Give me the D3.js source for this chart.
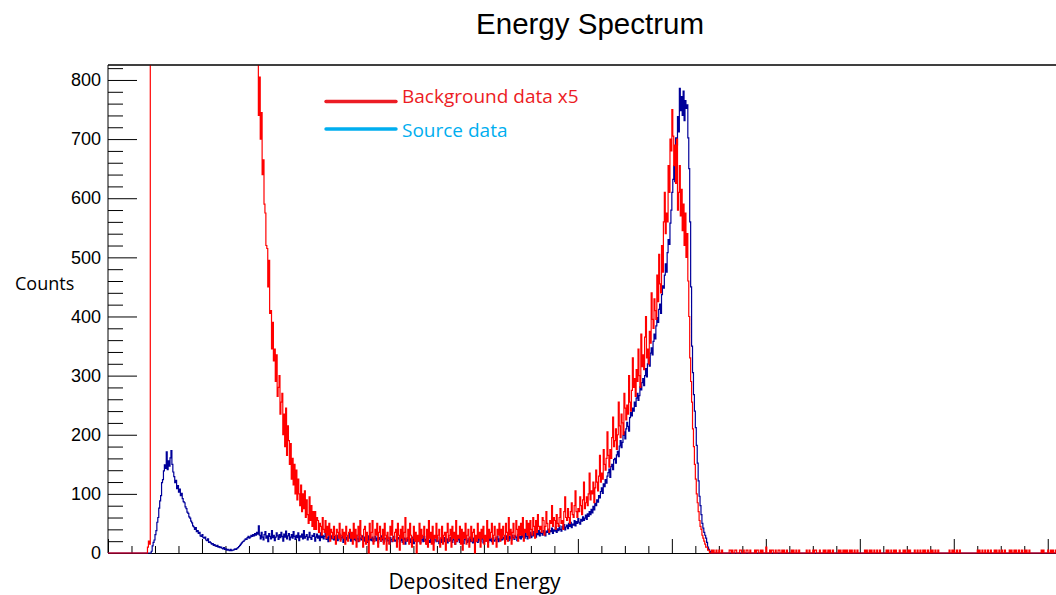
<!DOCTYPE html>
<html>
<head>
<meta charset="utf-8">
<script src="https://cdn.jsdelivr.net/npm/d3@7"></script>
<style>
  body { margin: 0; background: #ffffff; }
  svg { display: block; }
</style>
</head>
<body>
<svg id="chart" width="1056" height="595"></svg>
<script>
// ---- Spectrum data (1024-channel ADC, one bin per channel) ----
const channelCount = 1024;

// Source run: counts per channel, first value belongs to channel 44
const sourceStart = 44;
const sourceCounts = [
  0,0,3,12,18,22,31,38,52,60,
  76,88,97,119,124,139,149,143,171,141,
  156,147,161,173,150,137,129,119,123,109,
  114,103,108,97,101,92,87,85,78,75,
  69,67,61,59,54,51,46,44,40,43,
  36,38,33,35,29,28,31,26,25,27,
  22,21,24,18,19,17,15,16,13,14,
  12,11,13,10,11,9,10,8,7,9,
  6,7,5,6,5,4,6,4,5,5,
  6,7,6,8,9,11,13,15,17,19,
  20,22,24,23,26,28,25,27,30,28,
  31,29,33,30,35,32,46,
  30,24,35,27,22,31,36,25,29,19,
  33,28,24,38,26,30,21,27,34,29,
  23,31,26,35,28,20,32,27,37,24,
  29,33,22,27,31,25,36,28,23,30,
  26,34,21,29,27,32,24,38,25,28,
  31,22,27,35,26,23,30,28,33,20,
  27,32,25,29,21,34,26,30,24,28,
  35,23,27,19,31,26,29,24,33,22,
  28,25,30,21,27,32,23,26,29,18,
  31,24,27,22,29,25,33,20,26,28,
  23,27,21,30,24,19,28,25,22,29,
  24,20,27,23,26,18,29,22,25,21,
  27,19,24,28,21,25,17,26,23,20,
  29,22,18,25,24,20,27,21,16,26,
  23,19,25,28,20,22,17,26,24,19,
  21,27,18,23,25,15,24,20,26,22,
  18,24,21,27,16,23,20,25,19,22,
  26,17,22,24,19,28,20,23,15,25,
  21,18,26,20,23,17,24,22,19,27,
  20,16,23,25,18,21,26,19,22,24,
  17,23,20,26,21,18,24,22,15,25,
  19,22,27,18,21,24,20,16,23,26,
  21,18,24,20,27,19,22,17,25,21,
  23,20,18,26,22,19,24,28,17,22,
  25,20,23,18,27,21,24,19,26,22,
  20,25,23,28,19,24,21,26,22,27,
  24,20,29,23,26,21,28,25,22,30,
  26,23,29,27,21,31,25,28,24,32,
  27,30,25,33,28,24,31,29,35,26,
  32,29,36,30,27,34,31,38,29,35,
  33,30,38,34,29,37,35,40,32,38,
  36,42,33,39,37,44,35,41,38,46,
  40,37,45,42,48,39,44,47,41,50,
  45,52,43,49,47,55,46,53,50,58,
  52,49,57,54,61,55,59,64,57,66,
  62,70,65,74,68,79,73,84,80,90,
  86,97,93,104,110,101,117,112,124,118,
  130,136,142,128,146,150,141,158,160,152,
  166,172,163,181,190,178,187,199,205,193,
  210,221,214,206,229,238,232,245,240,255,
  248,262,270,258,266,281,276,288,295,283,
  300,312,298,320,331,316,338,347,335,358,
  370,362,384,398,390,412,421,405,437,452,
  448,470,489,475,508,530,522,558,580,610,
  632,655,628,702,690,738,712,786,748,772,
  740,781,731,765,752,758,702,650,560,450,
  350,305,268,240,212,182,152,122,96,80,
  65,50,42,35,30,25,18,10,6,3,1,0,0
];
// Isolated single source events above the photopeak
const sourceTail = [722, 766, 807, 875];

// Background run, already scaled x5; first value belongs to channel 40
const backgroundStart = 40;
const backgroundCounts = [
  0,0,10,20,15,
  3150,5820,7140,7460,7210,6890,6530,6170,5840,5520,
  5230,4960,4710,4450,4230,4010,3800,3620,3430,3270,
  3110,2960,2820,2690,2570,2450,2340,2240,2150,2060,
  1975,1900,1830,1760,1695,1640,1585,1530,1485,1440,
  1400,1360,1325,1290,1260,1230,1205,1180,1160,1140,
  1120,1105,1090,1075,1065,1050,1040,1035,1025,1020,
  1015,1010,1005,1000,995,990,985,980,975,970,
  965,960,955,950,945,940,935,930,925,920,
  915,910,905,900,900,895,895,890,890,885,
  885,880,880,875,875,870,870,865,865,860,
  860,860,855,855,855,850,850,850,845,845,
  845,845,840,840,840,
  740,805,700,745,640,665,590,575,520,515,
  450,495,405,410,345,390,325,345,290,335,
  265,280,300,235,255,270,200,235,180,245,
  165,215,190,150,185,125,160,115,150,100,
  140,90,125,100,80,115,70,100,75,105,
  60,90,65,50,95,55,80,45,70,40,
  70,40,60,55,35,50,45,30,60,40,
  35,55,25,45,30,50,20,40,35,25,
  45,30,15,40,35,25,50,20,30,40,
  25,35,15,45,30,20,35,40,25,
  35,15,50,25,40,10,30,45,20,55,
  30,25,10,40,45,15,35,20,0,50,
  25,35,55,15,20,40,30,50,10,35,
  45,20,25,40,15,50,30,5,35,25,
  15,45,30,55,20,25,35,40,10,50,
  30,5,40,25,45,15,35,60,20,25,
  40,15,50,30,10,25,45,20,35,0,
  30,20,50,15,40,25,30,45,20,15,
  40,10,55,25,35,15,45,5,30,25,
  50,20,30,40,10,25,45,15,30,35,
  5,35,50,20,30,40,10,45,25,35,
  15,55,20,30,25,45,15,40,5,35,
  25,50,15,30,40,10,25,45,20,35,
  40,0,30,20,50,25,35,10,40,25,
  45,15,30,20,55,10,40,25,35,50,
  15,30,45,25,10,40,30,50,20,40,
  25,45,30,15,50,35,20,60,30,40,
  15,35,50,25,30,55,40,20,45,30,
  50,30,60,20,40,35,55,30,50,25,
  55,40,30,60,45,25,55,35,65,45,
  40,45,35,60,55,30,45,70,50,40,
  35,55,50,80,45,60,55,40,65,50,
  45,60,75,50,55,40,70,95,60,55,
  75,60,50,70,85,65,60,80,105,70,
  60,75,70,95,80,65,90,120,75,85,
  95,80,100,135,90,105,100,120,85,110,
  140,120,105,130,165,120,135,125,175,150,
  140,160,205,165,145,175,160,195,230,180,
  190,210,175,200,255,215,195,235,220,200,
  270,245,225,250,235,300,255,240,275,330,
  280,295,265,310,290,345,300,280,370,315,
  335,310,365,400,330,345,320,375,355,440,
  395,380,430,410,395,470,425,505,455,440,
  520,475,560,610,540,575,560,655,610,700,
  680,750,705,655,690,625,700,580,610,655,
  570,615,545,590,520,575,500,540,460,400,
  330,290,255,210,180,150,125,100,85,70,
  55,45,40,30,25,20,15,10,10,5,
  5,0
];
// Sparse background events above the photopeak (each entry = one event, x5)
const backgroundTail = [
  642,644,647,650,653,661,662,664,667,668,672,673,676,679,680,683,688,690,691,694,
  696,700,700,704,706,707,710,713,714,717,719,722,727,729,732,735,743,746,750,752,
  753,757,761,763,766,768,771,777,779,782,784,786,789,791,794,797,805,807,810,812,
  815,818,821,828,830,833,836,838,842,846,848,851,853,858,861,864,867,869,872,875,
  877,880,883,895,898,900,903,906,925,927,930,933,936,939,943,945,948,951,954,959,
  961,964,966,969,972,975,977,980,993,995,1000,1003,1005,1008,1012,1016,1019,1022
];
const backgroundScale = 5;

// Axis tick values
const xMajorTicks = d3.range(0, 1001, 100);
const xMinorTicks = d3.range(0, 1025, 25);
const yMajorTicks = d3.range(0, 801, 100);
const yMinorTicks = d3.range(0, 821, 20);

// Texts
const chartTitle = "Energy Spectrum";
const xTitle = "Deposited Energy";
const yTitle = "Counts";
const legendItems = [
  { label: "Background data x5", color: "#ec1c24" },
  { label: "Source data", color: "#00aeef" }
];

// ---- Build full histograms ----
function buildHistogram(start, values, tail, weight) {
  const h = new Array(channelCount).fill(0);
  values.forEach((v, i) => { h[start + i] = v; });
  tail.forEach(c => { h[c] += weight; });
  return h;
}
const sourceHist = buildHistogram(sourceStart, sourceCounts, sourceTail, 1);
const backgroundHist = buildHistogram(backgroundStart, backgroundCounts, backgroundTail, backgroundScale);

// ---- Layout ----
const frame = { left: 108, top: 65, bottom: 553, right: 1070.3 };
const svg = d3.select("#chart");

const x = d3.scaleLinear().domain([0, channelCount]).range([frame.left, frame.right]);
const yMax = 1.05 * d3.max(sourceHist);
const y = d3.scaleLinear().domain([0, yMax]).range([frame.bottom, frame.top]);

const axisFont = "'Liberation Sans', Arial, Helvetica, sans-serif";
const labelFont = "'Open Sans', 'Noto Sans', sans-serif";

// Title
svg.append("text")
  .attr("x", 590).attr("y", 34)
  .attr("text-anchor", "middle")
  .attr("font-family", axisFont)
  .attr("font-size", 29.5)
  .attr("fill", "#000")
  .text(chartTitle);

// Frame top edge
svg.append("line")
  .attr("x1", frame.left).attr("x2", frame.right)
  .attr("y1", frame.top).attr("y2", frame.top)
  .attr("stroke", "#000").attr("stroke-width", 1);

// X axis: ticks only, pointing into the frame
const gx = svg.append("g").attr("transform", `translate(0,${frame.bottom})`);
gx.call(d3.axisBottom(x).tickValues(xMinorTicks.filter(t => t % 100 !== 0))
  .tickSize(-7).tickSizeOuter(0).tickFormat(""));
gx.call(g => g.select(".domain").remove());
const gxMajor = svg.append("g").attr("transform", `translate(0,${frame.bottom})`);
gxMajor.call(d3.axisBottom(x).tickValues(xMajorTicks)
  .tickSize(-14).tickSizeOuter(0).tickFormat(""));
gxMajor.select(".domain").attr("stroke", "#000");

// Y axis
const gyMinor = svg.append("g").attr("transform", `translate(${frame.left},0)`);
gyMinor.call(d3.axisLeft(y).tickValues(yMinorTicks.filter(t => t % 100 !== 0))
  .tickSize(-15).tickSizeOuter(0).tickFormat(""));
gyMinor.select(".domain").remove();
const gy = svg.append("g").attr("transform", `translate(${frame.left},0)`);
gy.call(d3.axisLeft(y).tickValues(yMajorTicks)
  .tickSize(-29).tickSizeOuter(0).tickPadding(7).tickFormat(d3.format("d")));
gy.select(".domain").attr("d", `M0,${frame.top}V${frame.bottom}`);
gy.selectAll("text")
  .attr("font-family", axisFont)
  .attr("font-size", 18)
  .attr("fill", "#000");

// Histograms, clipped to the frame
svg.append("clipPath").attr("id", "plot-clip")
  .append("rect")
  .attr("x", frame.left).attr("y", frame.top)
  .attr("width", frame.right - frame.left)
  .attr("height", frame.bottom - frame.top + 1);

const step = d3.line()
  .x(d => x(d[0]))
  .y(d => y(d[1]))
  .curve(d3.curveStepAfter);

function histPoints(h) {
  const pts = h.map((v, i) => [i, v]);
  pts.push([channelCount, h[channelCount - 1]]);
  return pts;
}

const plot = svg.append("g").attr("clip-path", "url(#plot-clip)");
plot.append("path")
  .attr("d", step(histPoints(sourceHist)))
  .attr("fill", "none")
  .attr("stroke", "#000099")
  .attr("stroke-width", 1.2);
plot.append("path")
  .attr("d", step(histPoints(backgroundHist)))
  .attr("fill", "none")
  .attr("stroke", "#ff0000")
  .attr("stroke-width", 1.2);

// Redraw the top frame edge over any clipped histogram segment
svg.append("line")
  .attr("x1", frame.left).attr("x2", frame.right)
  .attr("y1", frame.top).attr("y2", frame.top)
  .attr("stroke", "#000").attr("stroke-width", 1);

// Axis titles
svg.append("text")
  .attr("x", 15).attr("y", 289.5)
  .attr("font-family", labelFont)
  .attr("font-size", 18)
  .attr("fill", "#000")
  .text(yTitle);

svg.append("text")
  .attr("x", 474.5).attr("y", 589)
  .attr("text-anchor", "middle")
  .attr("font-family", labelFont)
  .attr("font-size", 21)
  .attr("fill", "#000")
  .text(xTitle);

// Legend
const legendLineY = [101.5, 129];
const legendTextY = [102.5, 137];
const legend = svg.append("g");
legendItems.forEach((item, i) => {
  legend.append("line")
    .attr("x1", 326).attr("x2", 396)
    .attr("y1", legendLineY[i]).attr("y2", legendLineY[i])
    .attr("stroke", item.color)
    .attr("stroke-width", 3.4)
    .attr("stroke-linecap", "round");
  legend.append("text")
    .attr("x", 402).attr("y", legendTextY[i])
    .attr("font-family", labelFont)
    .attr("font-size", 19)
    .attr("fill", item.color)
    .text(item.label);
});
</script>
</body>
</html>
